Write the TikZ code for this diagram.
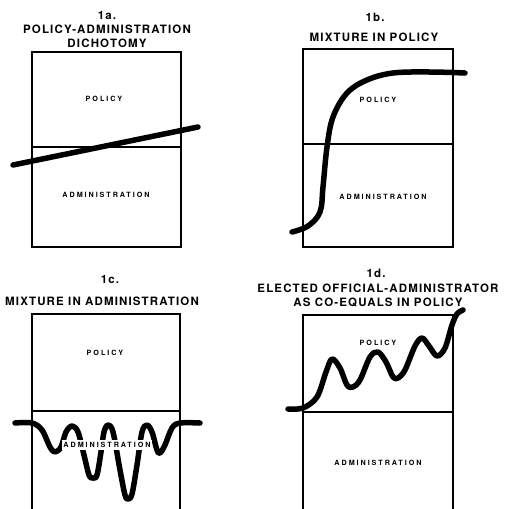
\documentclass[tikz,border=0pt]{standalone}
\usepackage{fontspec}
\newfontfamily\titlefam[LetterSpace=10]{TeX Gyre Heros}
\newfontfamily\labelfam[LetterSpace=27]{TeX Gyre Heros}
\begin{document}
\begin{tikzpicture}[x=1pt,y=-1pt,
  boxline/.style={line width=1.1pt},
  curve/.style={line width=5.5pt,line cap=round,line join=round},
  ttl/.style={font=\titlefam\bfseries\fontsize{11.5}{13.5}\selectfont,align=center,inner sep=0pt},
  lbl/.style={font=\labelfam\bfseries\fontsize{7.2}{8.5}\selectfont,inner sep=0pt}]
\useasboundingbox (0,0) rectangle (505,509);
\clip (0,0) rectangle (505,509);
% ---------- 1a
\node[ttl] (ta) at (107,15) {1a.};
\node[ttl] (ta1) at (107,29) {POLICY-ADMINISTRATION};
\node[ttl] (ta2) at (107,43) {DICHOTOMY};
\draw[boxline] (32,52) rectangle (181,247);
\draw[boxline] (32,147) -- (181,147);
\node[lbl] (pa) at (104,99) {POLICY};
\node[lbl] (aa) at (106,195) {ADMINISTRATION};
\draw[curve] (13,165) -- (198,127);
% ---------- 1b
\node[ttl] (tb) at (375,17) {1b.};
\node[ttl] (tb1) at (374,37) {MIXTURE IN POLICY};
\draw[boxline] (303,49) rectangle (453,247);
\draw[boxline] (303,144) -- (453,144);
\node[lbl] (pb) at (378,100) {POLICY};
\node[lbl] (ab) at (383,197) {ADMINISTRATION};
\draw[curve] plot[smooth,tension=0.6] coordinates {(292,232) (308,226) (320,212) (323,187) (327,147) (333,117) (347,93) (367,80) (393,73) (430,72) (465,73)};
% ---------- 1c
\node[ttl] (tc) at (110,279) {1c.};
\node[ttl] (tc1) at (102,301) {MIXTURE IN ADMINISTRATION};
\draw[boxline] (32,530) -- (32,314) -- (180,314) -- (180,530);
\draw[boxline] (32,411) -- (180,411);
\node[lbl] (pc) at (105,353) {POLICY};
\draw[curve] plot[smooth,tension=0.55] coordinates {(15,423) (32,423) (42,430) (50,447) (55,452) (61,447) (66,432) (72,426) (78,432) (84,455) (89,475) (93,478) (97,475) (101,452) (104,432) (108,425) (113,432) (120,470) (125,495) (128,499) (132,494) (137,465) (142,432) (147,425) (152,432) (157,450) (160,453) (165,445) (172,428) (180,423) (200,423)};
\node[lbl,fill=white,inner xsep=1pt,inner ysep=2.5pt] (ac) at (107,445) {ADMINISTRATION};
% ---------- 1d
\node[ttl] (td) at (376,273) {1d.};
\node[ttl] (td1) at (378,288) {ELECTED OFFICIAL-ADMINISTRATOR};
\node[ttl] (td2) at (378,302) {AS CO-EQUALS IN POLICY};
\draw[boxline] (303,530) -- (303,315) -- (453,315) -- (453,530);
\draw[boxline] (303,412) -- (453,412);
\node[lbl] (pd) at (378,343) {POLICY};
\node[lbl] (ad) at (378,463) {ADMINISTRATION};
\draw[curve] plot[smooth,tension=0.55] coordinates {(288,409) (303,408) (317,397) (326,372) (332,359) (340,368) (347,385) (353,387) (360,380) (370,357) (378,352) (386,362) (393,377) (398,378) (405,370) (415,346) (422,338) (429,346) (437,356) (445,348) (452,325) (457,314) (463,310)};
\end{tikzpicture}
\end{document}
